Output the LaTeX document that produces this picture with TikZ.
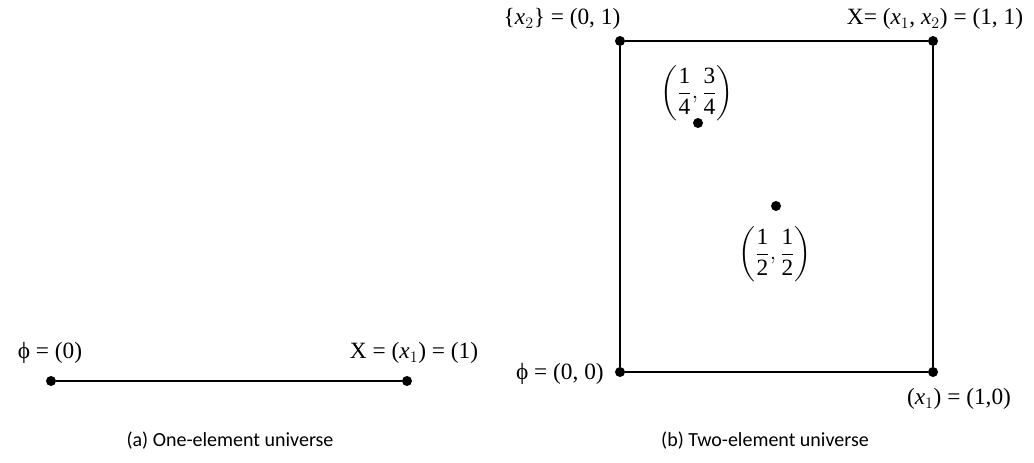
\documentclass[tikz,border=0pt]{standalone}
\usepackage{fontspec}
\setmainfont{Liberation Serif}
\newfontfamily\capfont{Carlito}
\usepackage{amsmath}
\usepackage{xcolor}
\usepackage{tikz}
\usetikzlibrary{calc,positioning}
\definecolor{Ink}{HTML}{000000}
\newcommand{\tfr}[2]{\dfrac{\text{#1}}{\text{#2}}}

\begin{document}
\begin{tikzpicture}[x=.75pt,y=-.75pt,
  dot/.style={circle,fill=Ink,inner sep=0pt,minimum size=7.5pt},
  lbl/.style={font=\fontsize{17.5}{20}\selectfont,text=Ink,inner sep=0pt},
  captxt/.style={font=\capfont\fontsize{15}{17}\selectfont,text=Ink}]
\useasboundingbox (0,0) rectangle (1034,462);
% (a) one element
\node[dot] (e0) at (51,381) {};
\node[dot] (e1) at (407,381) {};
\draw[Ink,line width=1pt] (e0)--(e1);
\node[lbl] (le0) at (50,353) {ϕ = (0)};
\node[lbl] (le1) at (414,353) {X = (\textit{x}$_1$) = (1)};
\node[captxt] (capa) at (230,441) {(a) One-element universe};
% (b) two elements
\node[dot] (s00) at (620,372) {};
\node[dot] (s10) at (933,372) {};
\node[dot] (s01) at (620,41) {};
\node[dot] (s11) at (933,41) {};
\draw[Ink,line width=1pt] (s00)--(s10)--(s11)--(s01)--(s00);
\node[dot] (q) at (698,123) {};
\node[dot] (h) at (776,206) {};
\node[lbl] (ls01) at (562,19) {\{\textit{x}$_2$\} = (0, 1)};
\node[lbl] (ls11) at (935,19) {X= (\textit{x}$_1$, \textit{x}$_2$) = (1, 1)};
\node[lbl,anchor=east] (ls00) at (604,374) {ϕ = (0, 0)};
\node[lbl] (ls10) at (959,399) {(\textit{x}$_1$) = (1,0)};
\node[lbl] (lq) at (697,93) {$\left(\tfr{1}{4},\tfr{3}{4}\right)$};
\node[lbl] (lh) at (775,254) {$\left(\tfr{1}{2},\tfr{1}{2}\right)$};
\node[captxt] (capb) at (765,441) {(b) Two-element universe};
\end{tikzpicture}
\end{document}
